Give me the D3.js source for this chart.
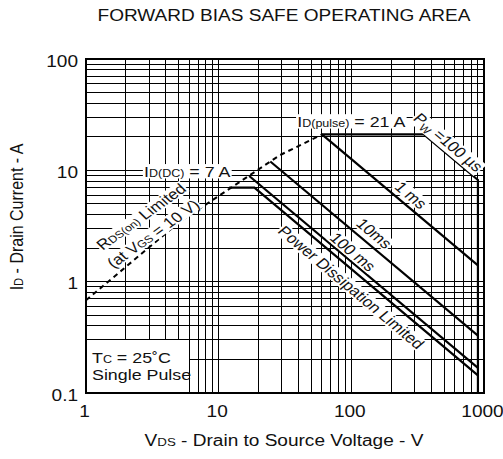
<!DOCTYPE html>
<html>
  <head>
    <style>
      html,
      body {
        margin: 0;
        padding: 0;
        background: #fff;
      }
      svg text {
        font-family: Arial, "Liberation Sans", sans-serif;
        fill: #111;
      }
    </style>
  </head>
  <body>
    <svg id="chart" width="503" height="459"></svg>
    <script src="https://d3js.org/d3.v7.min.js"></script>
    <script>
      // axis ticks and grid values
      const xTicks = [1, 10, 100, 1000];
      const yTicks = [0.1, 1, 10, 100];
      const xGrid = [1, 2, 3, 4, 5, 6, 7, 8, 9, 10, 20, 30, 40, 50, 60, 70, 80, 90,
        100, 200, 300, 400, 500, 600, 700, 800, 900, 1000];
      const yGrid = [0.1, 0.2, 0.3, 0.4, 0.5, 0.6, 0.7, 0.8, 0.9, 1, 2, 3, 4, 5, 6, 7, 8, 9,
        10, 20, 30, 40, 50, 60, 70, 80, 90, 100];

      // curves: [VDS (V), ID (A)]
      const rdsLimit = [[1, 0.68], [5, 3.4], [29, 13.7], [60, 21]];
      const pulse100us = [[60, 21], [352, 21], [900, 8.2], [900, 0.1]];
      const pulse1ms = [[60, 21], [900, 1.4]];
      const pulse10ms = [[24.5, 12], [900, 0.327]];
      const pulse100ms = [[17, 8.9], [900, 0.168]];
      const dcLine = [[12, 7], [18.6, 7], [900, 0.144]];

      const SX = 1.19; // the scan is stretched sideways
      const svg = d3.select("#chart");

      const x = d3.scaleLog().domain([1, 1000]).range([86, 484]);
      const y = d3.scaleLog().domain([0.1, 100]).range([393, 59]);

      // grid
      const grid = svg
        .append("g")
        .attr("stroke", "#000")
        .attr("stroke-width", 1)
        .attr("shape-rendering", "crispEdges");
      grid.selectAll(".gx")
        .data(xGrid)
        .join("line")
        .attr("class", "gx")
        .attr("x1", (d) => x(d))
        .attr("x2", (d) => x(d))
        .attr("y1", y(0.1))
        .attr("y2", y(100));
      grid.selectAll(".gy")
        .data(yGrid)
        .join("line")
        .attr("class", "gy")
        .attr("x1", x(1))
        .attr("x2", x(1000))
        .attr("y1", (d) => y(d))
        .attr("y2", (d) => y(d));

      // Tc box in the corner
      svg.append("rect")
        .attr("x", x(1))
        .attr("y", y(0.3))
        .attr("width", x(6) - x(1))
        .attr("height", y(0.1) - y(0.3))
        .attr("fill", "#fff")
        .attr("stroke", "#000")
        .attr("shape-rendering", "crispEdges");

      const line = d3.line().x((d) => x(d[0])).y((d) => y(d[1]));

      svg.append("path")
        .attr("d", line(rdsLimit))
        .attr("fill", "none")
        .attr("stroke", "#000")
        .attr("stroke-width", 2)
        .attr("stroke-dasharray", "5,4");

      svg.selectAll(".curve")
        .data([pulse100us, pulse1ms, pulse10ms, pulse100ms, dcLine])
        .join("path")
        .attr("class", "curve")
        .attr("d", (d) => line(d))
        .attr("fill", "none")
        .attr("stroke", "#000")
        .attr("stroke-width", 2.2)
        .attr("stroke-linejoin", "miter");

      svg.append("rect")
        .attr("x", x(1))
        .attr("y", y(100))
        .attr("width", x(1000) - x(1))
        .attr("height", y(0.1) - y(100))
        .attr("fill", "none")
        .attr("stroke", "#000")
        .attr("stroke-width", 2);

      // text helper: parts are [string, kind]
      function writeParts(t, parts, size) {
        let low = false;
        parts.forEach((p) => {
          const ts = t.append("tspan").text(p[0]);
          if (p[1] === "sub") ts.attr("font-size", size * 0.7);
          if (p[1] === "low") {
            ts.attr("font-size", size * 0.7).attr("dy", 3);
            low = true;
          } else if (low) {
            ts.attr("dy", -3);
            low = false;
          }
        });
      }

      const labelLayer = svg.append("g");
      function addLabel(parts, v, i, angle, size) {
        const a0 = (Math.atan(Math.tan((angle * Math.PI) / 180) * SX) * 180) / Math.PI;
        const g = labelLayer
          .append("g")
          .attr("transform", `translate(${x(v)},${y(i)}) scale(${SX},1) rotate(${a0})`);
        const bg = g.append("rect").attr("fill", "#fff");
        const t = g.append("text")
          .attr("text-anchor", "middle")
          .attr("y", size * 0.36)
          .attr("font-size", size);
        writeParts(t, parts, size);
        const b = t.node().getBBox();
        bg.attr("x", b.x - 1)
          .attr("y", b.y + 1)
          .attr("width", b.width + 2)
          .attr("height", b.height - 2);
      }

      addLabel([["I"], ["D(DC)", "sub"], [" = 7 A"]], 5.8, 9.8, 0, 15);
      addLabel([["I"], ["D(pulse)", "sub"], [" = 21 A"]], 100, 27.5, 0, 15);
      addLabel([["P"], ["W", "low"], [" =100 µs"]], 540, 17.9, 40, 14.5);
      addLabel([["1 ms"]], 282, 6.0, 40, 14.5);
      addLabel([["10ms"]], 149, 2.72, 40, 14.5);
      addLabel([["100 ms"]], 103, 1.85, 40, 14.5);
      addLabel([["Power Dissipation Limited"]], 100, 0.89, 40, 14.5);
      addLabel([["R"], ["DS(on)", "sub"], [" Limited"]], 2.6, 3.85, -35.5, 14.5);
      addLabel([["(at V"], ["GS", "sub"], [" = 10 V)"]], 3.2, 2.7, -35.5, 14.5);

      // Tc note
      const note = svg.append("g")
        .attr("transform", `translate(${x(1) + 6},0) scale(${SX},1)`);
      const n1 = note.append("text").attr("y", 363).attr("font-size", 15);
      writeParts(n1, [["T"], ["C", "sub"], [" = 25˚C"]], 15);
      note.append("text").attr("y", 380).attr("font-size", 15).text("Single Pulse");

      // axes
      const xAxis = svg.append("g")
        .attr("transform", `translate(-2,${y(0.1)})`)
        .call(d3.axisBottom(x).tickValues(xTicks).tickFormat(d3.format("d")).tickSize(0));
      xAxis.select(".domain").remove();
      xAxis.selectAll("text")
        .attr("font-size", 16)
        .attr("font-family", null)
        .attr("y", 13)
        .attr("transform", `scale(${SX},1)`);

      const yAxis = svg.append("g")
        .attr("transform", `translate(78,2)`)
        .call(d3.axisLeft(y).tickValues(yTicks).tickFormat((d) => String(d)).tickSize(0));
      yAxis.select(".domain").remove();
      yAxis.selectAll("text")
        .attr("font-size", 16)
        .attr("font-family", null)
        .attr("x", 0)
        .attr("transform", `scale(${SX},1)`);
      svg.selectAll(".tick text").attr("fill", "#111");

      // titles
      svg.append("g")
        .attr("transform", `translate(284,21) scale(${SX},1)`)
        .append("text")
        .attr("text-anchor", "middle")
        .attr("font-size", 16)
        .text("FORWARD BIAS SAFE OPERATING AREA");

      const xt = svg.append("g")
        .attr("transform", `translate(284,446) scale(${SX},1)`)
        .append("text")
        .attr("text-anchor", "middle")
        .attr("font-size", 16);
      writeParts(xt, [["V"], ["DS", "sub"], [" - Drain to Source Voltage - V"]], 16);

      const yt = svg.append("g")
        .attr("transform", `translate(16,217) scale(${SX},1) rotate(-90)`)
        .append("text")
        .attr("text-anchor", "middle")
        .attr("y", 5.6)
        .attr("font-size", 16);
      writeParts(yt, [["I"], ["D", "sub"], [" - Drain Current - A"]], 16);
    </script>
  </body>
</html>
